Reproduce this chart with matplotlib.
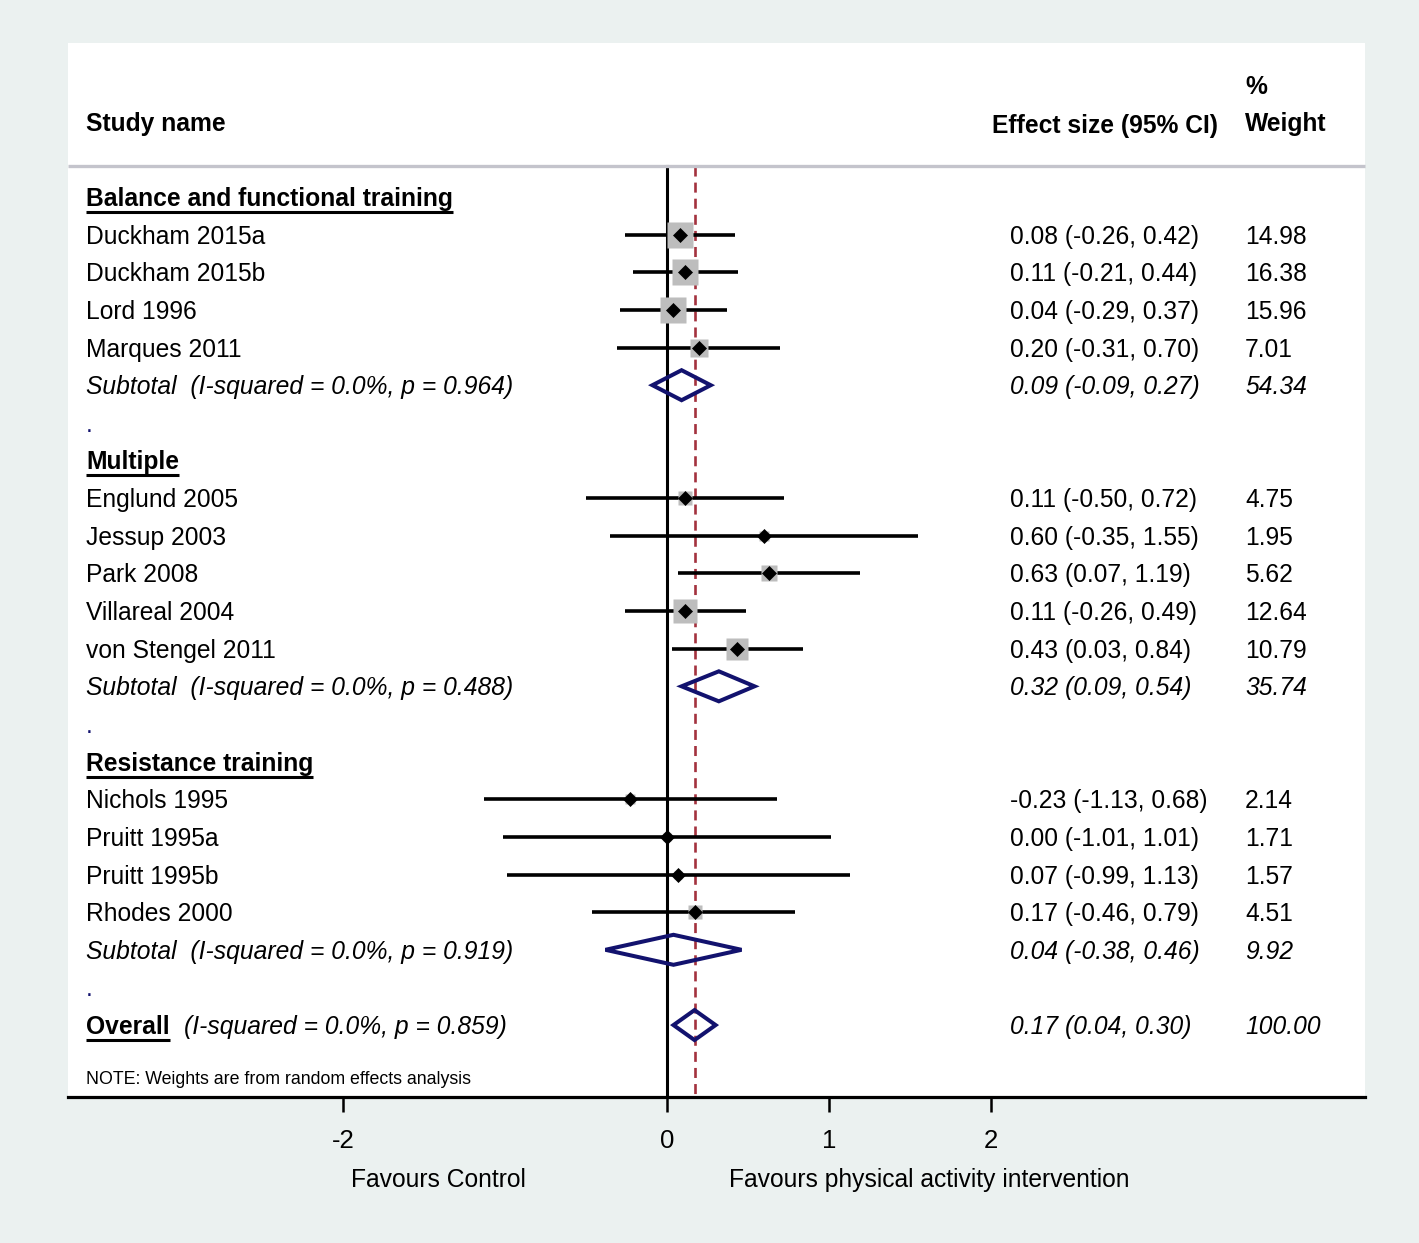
import matplotlib
matplotlib.use("Agg")
import matplotlib.pyplot as plt
from matplotlib.patches import Polygon
import matplotlib.transforms as mtransforms
import numpy as np

plt.rcParams['font.family'] = ['Liberation Sans', 'DejaVu Sans']

# ---------------- data ----------------
groups = ["Balance and functional training", "Multiple", "Resistance training"]
studies = ["Duckham 2015a", "Duckham 2015b", "Lord 1996", "Marques 2011",
           "Englund 2005", "Jessup 2003", "Park 2008", "Villareal 2004", "von Stengel 2011",
           "Nichols 1995", "Pruitt 1995a", "Pruitt 1995b", "Rhodes 2000"]
study_group = [0, 0, 0, 0, 1, 1, 1, 1, 1, 2, 2, 2, 2]
es = [0.08, 0.11, 0.04, 0.20, 0.11, 0.60, 0.63, 0.11, 0.43, -0.23, 0.00, 0.07, 0.17]
lo = [-0.26, -0.21, -0.29, -0.31, -0.50, -0.35, 0.07, -0.26, 0.03, -1.13, -1.01, -0.99, -0.46]
hi = [0.42, 0.44, 0.37, 0.70, 0.72, 1.55, 1.19, 0.49, 0.84, 0.68, 1.01, 1.13, 0.79]
weights = [14.98, 16.38, 15.96, 7.01, 4.75, 1.95, 5.62, 12.64, 10.79, 2.14, 1.71, 1.57, 4.51]

sub_es = [0.09, 0.32, 0.04]
sub_lo = [-0.09, 0.09, -0.38]
sub_hi = [0.27, 0.54, 0.46]
sub_w = [54.34, 35.74, 9.92]
sub_i2 = ["0.0%", "0.0%", "0.0%"]
sub_p = ["0.964", "0.488", "0.919"]

overall = dict(es=0.17, lo=0.04, hi=0.30, w=100.00, i2="0.0%", p="0.859")

xticks = [-2, 0, 1, 2]
xlabel_left = "Favours Control"
xlabel_right = "Favours physical activity intervention"

# ---------------- style ----------------
BG = '#ebf1f0'
NAVY = '#12126e'
DASH = '#a3323e'
FS = 17.7

W, H = 1419, 1243
fig = plt.figure(figsize=(W / 100, H / 100), dpi=100, facecolor=BG)
ax_left, ax_right, ax_top, ax_bot = 68, 1365, 43, 1097
ax = fig.add_axes([ax_left / W, (H - ax_bot) / H, (ax_right - ax_left) / W, (ax_bot - ax_top) / H])
ax.set_facecolor('white')

px_per_unit = 162.0
x0_px = 667.0
xmin = (ax_left - x0_px) / px_per_unit
xmax = (ax_right - x0_px) / px_per_unit
row0_px = 197.0
pitch = 37.64
ytop = (ax_top - row0_px) / pitch
ybot = (ax_bot - row0_px) / pitch
ax.set_xlim(xmin, xmax)
ax.set_ylim(ybot, ytop)

def px2x(p):
    return (p - x0_px) / px_per_unit

def py2r(p):
    return (p - row0_px) / pitch

X_NAME = px2x(86)
X_ES = px2x(1010)
X_W = px2x(1245)
BASE = 9.0 / pitch  # baseline offset from visual center

for s in ['top', 'left', 'right']:
    ax.spines[s].set_visible(False)
ax.spines['bottom'].set_linewidth(2.3)
ax.set_yticks([])
ax.set_xticks(xticks)
ax.set_xticklabels([str(t) for t in xticks])
ax.tick_params(axis='x', direction='out', length=11, width=1.8, pad=12, labelsize=18.5)

# header
ax.text(X_NAME, py2r(122) + BASE, "Study name", fontsize=FS, fontweight='bold', va='baseline')
ax.text(px2x(992), py2r(124) + BASE, "Effect size (95% CI)", fontsize=FS, fontweight='bold', va='baseline')
ax.text(X_W, py2r(122) + BASE, "Weight", fontsize=FS, fontweight='bold', va='baseline')
ax.text(X_W, py2r(85) + BASE, "%", fontsize=FS, fontweight='bold', va='baseline')
ax.plot([xmin, xmax], [py2r(166)] * 2, color='#c4c4cc', lw=2.4, solid_capstyle='butt', clip_on=False)

# reference lines
ax.plot([0, 0], [py2r(166), ybot], color='black', lw=2.2, zorder=1)
ax.plot([overall['es']] * 2, [py2r(166), ybot], color=DASH, lw=1.9, ls=(0, (3.8, 2.3)), zorder=1)

fig.canvas.draw()
renderer = fig.canvas.get_renderer()

def underline(t, yrow):
    bb = t.get_window_extent(renderer)
    inv = ax.transData.inverted()
    xa = inv.transform((bb.x0, 0))[0]
    xb = inv.transform((bb.x1, 0))[0]
    yl = yrow + BASE + 6.0 / pitch
    ax.plot([xa, xb], [yl, yl], color='black', lw=2.2, solid_capstyle='butt')

def diamond(e, l, h, r):
    hh = 15.0 / pitch
    poly = Polygon([[l, r], [e, r - hh], [h, r], [e, r + hh]], closed=True,
                   fill=False, edgecolor=NAVY, lw=2.9, joinstyle='miter', zorder=4)
    ax.add_patch(poly)

def fmt(e, l, h):
    return f"{e:.2f} ({l:.2f}, {h:.2f})"

row = 0
for g, gname in enumerate(groups):
    t = ax.text(X_NAME, row + BASE, gname, fontsize=FS, fontweight='bold', va='baseline')
    underline(t, row)
    row += 1
    for i, name in enumerate(studies):
        if study_group[i] != g:
            continue
        side_px = 6.5 * np.sqrt(weights[i])
        ax.plot([lo[i], hi[i]], [row, row], color='black', lw=2.6, solid_capstyle='butt', zorder=2)
        ax.plot([es[i]], [row], marker='s', ms=side_px * 0.72, mfc='#bdbdbd', mec='none', zorder=2.5)
        ax.plot([es[i]], [row], marker='D', ms=7.2, mfc='black', mec='black', mew=0.5, zorder=3)
        ax.text(X_NAME, row + BASE, name, fontsize=FS, va='baseline')
        ax.text(X_ES, row + BASE, fmt(es[i], lo[i], hi[i]), fontsize=FS, va='baseline')
        ax.text(X_W, row + BASE, f"{weights[i]:.2f}", fontsize=FS, va='baseline')
        row += 1
    diamond(sub_es[g], sub_lo[g], sub_hi[g], row)
    ax.text(X_NAME, row + BASE, f"Subtotal  (I-squared = {sub_i2[g]}, p = {sub_p[g]})",
            fontsize=FS, style='italic', va='baseline')
    ax.text(X_ES, row + BASE, fmt(sub_es[g], sub_lo[g], sub_hi[g]), fontsize=FS, style='italic', va='baseline')
    ax.text(X_W, row + BASE, f"{sub_w[g]:.2f}", fontsize=FS, style='italic', va='baseline')
    row += 1
    ax.text(px2x(86), row + BASE, ".", fontsize=FS, color=NAVY, va='baseline')
    row += 1

# overall
t = ax.text(X_NAME, row + BASE, "Overall", fontsize=FS, fontweight='bold', va='baseline')
underline(t, row)
ax.text(px2x(184), row + BASE, f"(I-squared = {overall['i2']}, p = {overall['p']})",
        fontsize=FS, style='italic', va='baseline')
diamond(overall['es'], overall['lo'], overall['hi'], row)
ax.text(X_ES, row + BASE, fmt(overall['es'], overall['lo'], overall['hi']), fontsize=FS, style='italic', va='baseline')
ax.text(X_W, row + BASE, f"{overall['w']:.2f}", fontsize=FS, style='italic', va='baseline')

ax.text(X_NAME, py2r(1078) + 6 / pitch, "NOTE: Weights are from random effects analysis", fontsize=12.8, va='baseline')

# bottom labels
trans = mtransforms.blended_transform_factory(ax.transData, fig.transFigure)
ax.text(px2x(438), (H - 1180) / H, xlabel_left, fontsize=FS, ha='center', va='center', transform=trans)
ax.text(px2x(929), (H - 1180) / H, xlabel_right, fontsize=FS, ha='center', va='center', transform=trans)

fig.savefig("out.png", dpi=100, facecolor=BG)
